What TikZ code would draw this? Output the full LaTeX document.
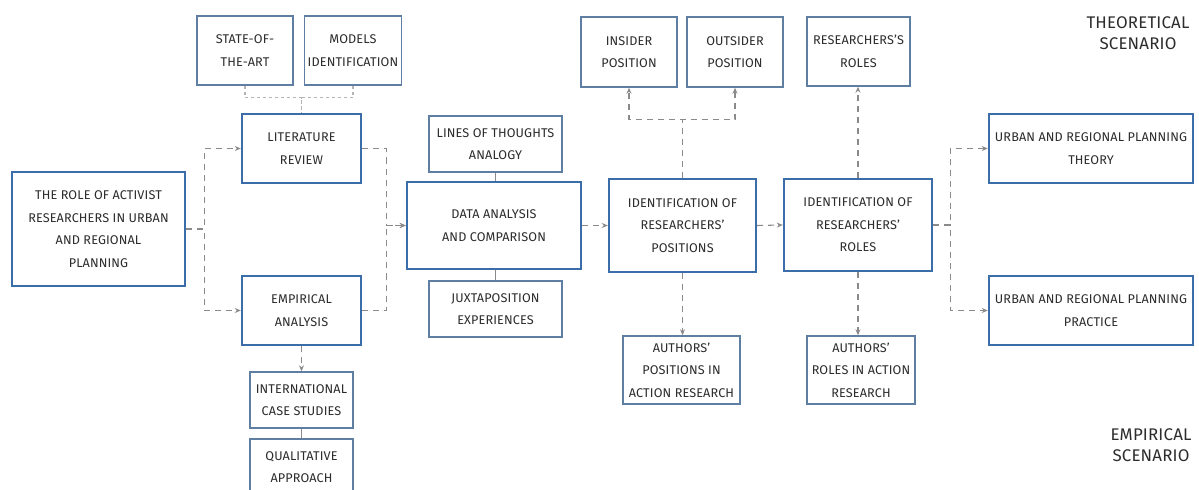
\documentclass[tikz,border=0pt]{standalone}
\usepackage{fontspec}
\setmainfont{Fira Sans}[LetterSpace=1]
\usepackage{xcolor}
\usepackage{tikz}
\usetikzlibrary{calc,arrows.meta,positioning}
\definecolor{mainc}{HTML}{3B6EA8}
\definecolor{thinc}{HTML}{5E7EA2}
\definecolor{linec}{HTML}{8A8A8A}
\definecolor{dotc}{HTML}{B4B4B4}
\definecolor{txtc}{HTML}{2C2C2C}
\tikzset{
  ar/.style={-{Stealth[length=1.2mm,width=1mm]},semithick,linec,dash pattern=on 1.2mm off 1mm},
  dotl/.style={semithick,dotc,dash pattern=on 0.6mm off 0.6mm},
  tie/.style={thin,linec},
  box/.style={draw=thinc,line width=0.8pt,fill=white,align=center,inner sep=2pt,
    text=txtc,font=\fontsize{7.2}{12.8}\selectfont},
  mbox/.style={box,draw=mainc,line width=1.4pt},
  scen/.style={align=center,text=txtc,font=\fontsize{9.6}{11.6}\selectfont}
}
\begin{document}
\begin{tikzpicture}[x=0.2mm,y=-0.2mm]
\useasboundingbox (0,0) rectangle (1199,490);
% main line
\node[mbox,line width=1.7pt,minimum width=34.6mm,minimum height=22.8mm] (role) at (98.5,229) {THE ROLE OF ACTIVIST\\RESEARCHERS IN URBAN\\AND REGIONAL\\PLANNING};
\node[mbox,minimum width=23.8mm,minimum height=13.8mm] (lit) at (301.5,148.5) {LITERATURE\\REVIEW};
\node[mbox,minimum width=23.8mm,minimum height=13.8mm] (emp) at (301.5,310.5) {EMPIRICAL\\ANALYSIS};
\node[mbox,minimum width=34.8mm,minimum height=17.4mm] (data) at (494,225.5) {DATA ANALYSIS\\AND COMPARISON};
\node[mbox,minimum width=29.4mm,minimum height=18.6mm] (idpos) at (682.5,225.5) {IDENTIFICATION OF\\RESEARCHERS'\\POSITIONS};
\node[mbox,minimum width=29.6mm,minimum height=18.4mm] (idroles) at (858,225) {IDENTIFICATION OF\\RESEARCHERS'\\ROLES};
\node[mbox,minimum width=40.8mm,minimum height=13.8mm] (theory) at (1091,148.5) {URBAN AND REGIONAL PLANNING\\THEORY};
\node[mbox,minimum width=40.8mm,minimum height=13.8mm] (practice) at (1091,310.5) {URBAN AND REGIONAL PLANNING\\PRACTICE};
% side boxes
\node[box,minimum width=19.2mm,minimum height=13.8mm] (state) at (245,50.5) {STATE-OF-\\THE-ART};
\node[box,minimum width=19.2mm,minimum height=13.8mm] (models) at (353,50.5) {MODELS\\IDENTIFICATION};
\node[box,minimum width=20.6mm,minimum height=11.2mm] (intl) at (301.5,400) {INTERNATIONAL\\CASE STUDIES};
\node[box,minimum width=20.6mm,minimum height=11.2mm] (qual) at (301.5,467) {QUALITATIVE\\APPROACH};
\node[box,minimum width=26.6mm,minimum height=11.2mm] (lines) at (495.5,144) {LINES OF THOUGHTS\\ANALOGY};
\node[box,minimum width=26.6mm,minimum height=11.2mm] (juxt) at (495.5,309) {JUXTAPOSITION\\EXPERIENCES};
\node[box,minimum width=19.2mm,minimum height=14mm] (insider) at (629,52) {INSIDER\\POSITION};
\node[box,minimum width=19.2mm,minimum height=14mm] (outsider) at (735,52) {OUTSIDER\\POSITION};
\node[box,minimum width=23.4mm,minimum height=13.6mm] (authpos) at (681.5,370) {AUTHORS'\\POSITIONS IN\\ACTION RESEARCH};
\node[box,minimum width=20.6mm,minimum height=13.8mm] (resroles) at (858.5,51.5) {RESEARCHERS'S\\ROLES};
\node[box,minimum width=21.6mm,minimum height=13.6mm] (authroles) at (861,370) {AUTHORS'\\ROLES IN ACTION\\RESEARCH};
% scenarios
\node[scen] (theo) at (1138,33) {THEORETICAL\\SCENARIO};
\node[scen] (empi) at (1151,445) {EMPIRICAL\\SCENARIO};
% connectors
\draw[ar] (role.east) -- ++(18,0) |- (lit.west);
\draw[ar] (role.east) -- ++(18,0) |- (emp.west);
\draw[ar] (lit.east) -- ++(24,0) |- (data.west);
\draw[ar] (emp.east) -- ++(24,0) |- (data.west);
\draw[dotl] (state.south) -- ++(0,12) -| (lit.north);
\draw[dotl] (models.south) -- ++(0,12) -| (lit.north);
\draw[ar] (emp.south) -- (intl.north);
\draw[tie] (intl.south) -- (qual.north);
\draw[tie] (lines.south) -- (lines.south |- data.north);
\draw[tie] (juxt.north) -- (juxt.north |- data.south);
\draw[ar] (data.east) -- (idpos.west);
\draw[ar] (idpos.east) -- (idroles.west);
\draw[ar] (idpos.north) -- ++(0,-58) -| (insider.south);
\draw[ar] (idpos.north) -- ++(0,-58) -| (outsider.south);
\draw[ar] (idpos.south) -- (idpos.south |- authpos.north);
\draw[ar] (idroles.north) -- (idroles.north |- resroles.south);
\draw[ar] (idroles.south) -- (idroles.south |- authroles.north);
\draw[ar] (idroles.east) -- ++(17,0) |- (theory.west);
\draw[ar] (idroles.east) -- ++(17,0) |- (practice.west);
\end{tikzpicture}
\end{document}
